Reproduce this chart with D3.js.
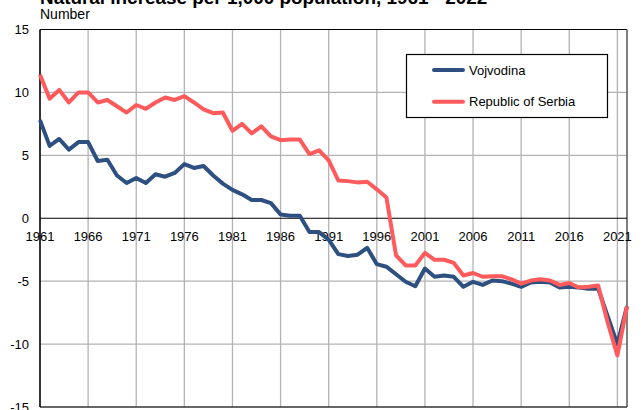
<!DOCTYPE html>
<html><head><meta charset="utf-8">
<script src="https://cdn.jsdelivr.net/npm/d3@7"></script>
<style>
html,body{margin:0;padding:0;background:#fff;}
svg{display:block;font-family:"Liberation Sans",Arial,sans-serif;}
</style></head>
<body>
<svg id="chart" width="641" height="410"></svg>
<script>
const titleText = "Natural increase per 1,000 population, 1961 - 2022";
const unitText = "Number";
const years = d3.range(1961, 2023);
const seriesNames = ["Vojvodina", "Republic of Serbia"];
const vojvodina = [7.8,5.75,6.3,5.45,6.05,6.05,4.55,4.65,3.4,2.8,3.2,2.8,3.5,3.3,3.6,4.3,4.0,
  4.15,3.4,2.75,2.25,1.9,1.45,1.45,1.2,0.3,0.2,0.2,-1.1,-1.1,-1.7,-2.85,-3.0,-2.9,-2.35,-3.65,-3.85,
  -4.45,-5.05,-5.4,-4.0,-4.65,-4.55,-4.65,-5.45,-5.05,-5.3,-4.95,-5.0,-5.2,-5.45,-5.1,-5.05,-5.1,-5.5,-5.45,-5.5,-5.6,-5.6,-7.8,-10.0,-7.0];
const serbia = [11.4,9.5,10.2,9.2,10.0,10.0,9.2,9.4,8.9,8.4,9.0,8.7,9.2,9.6,9.4,9.7,9.2,
  8.65,8.35,8.4,6.95,7.5,6.75,7.3,6.5,6.2,6.25,6.25,5.1,5.4,4.6,3.0,2.95,2.85,2.9,2.3,1.65,
  -2.95,-3.75,-3.75,-2.75,-3.3,-3.3,-3.55,-4.55,-4.35,-4.65,-4.6,-4.6,-4.85,-5.2,-4.95,-4.85,-4.95,-5.3,-5.15,-5.5,-5.45,-5.35,-8.3,-10.9,-7.0];
const xTicks = [1961,1966,1971,1976,1981,1986,1991,1996,2001,2006,2011,2016,2021];
const yTicks = [-15,-10,-5,0,5,10,15];
const colors = ["#2d5080", "#ff5a5c"];

const svg = d3.select("#chart");
const L = 40, R = 627, T = 29.5, B = 407;
const x = d3.scaleLinear().domain([1961, 2022]).range([L, R]);
const y = d3.scaleLinear().domain([-15, 15]).range([B, T]);

// title & unit
svg.append("text").attr("x", 40).attr("y", 3.5).attr("font-size", 18.9).attr("font-weight", "bold")
  .attr("fill", "#000").text(titleText);
svg.append("text").attr("x", 40).attr("y", 19).attr("font-size", 14).attr("fill", "#000").text(unitText);

// grid
const g = svg.append("g");
g.selectAll("line.hg").data(yTicks.filter(d => d !== 0 && d !== 15 && d !== -15)).enter().append("line")
  .attr("x1", L).attr("x2", R).attr("y1", d => y(d)).attr("y2", d => y(d))
  .attr("stroke", "#b3b3b3").attr("stroke-width", 1.3);
g.selectAll("line.vg").data(xTicks.filter(d => d !== 1961)).enter().append("line")
  .attr("x1", d => x(d)).attr("x2", d => x(d)).attr("y1", T).attr("y2", B)
  .attr("stroke", "#b3b3b3").attr("stroke-width", 1.3);

// frame
svg.append("line").attr("x1", L).attr("x2", R).attr("y1", T).attr("y2", T).attr("stroke", "#000").attr("stroke-width", 1.2);
svg.append("line").attr("x1", R).attr("x2", R).attr("y1", T).attr("y2", B).attr("stroke", "#555").attr("stroke-width", 1.5);
svg.append("line").attr("x1", L).attr("x2", R).attr("y1", B).attr("y2", B).attr("stroke", "#333").attr("stroke-width", 1.5);

// y axis labels
svg.append("g").selectAll("text").data(yTicks).enter().append("text")
  .attr("x", 29).attr("y", d => y(d)).attr("dy", "0.36em").attr("text-anchor", "end")
  .attr("font-size", 13).attr("fill", "#000").text(d => d);

// x labels
svg.append("g").selectAll("text").data(xTicks).enter().append("text")
  .attr("x", d => x(d)).attr("y", 240.5).attr("text-anchor", "middle")
  .attr("font-size", 13).attr("fill", "#000").text(d => d);

// zero line and left axis
svg.append("line").attr("x1", L).attr("x2", R).attr("y1", y(0)).attr("y2", y(0)).attr("stroke", "#000").attr("stroke-width", 1.2);
svg.append("line").attr("x1", L).attr("x2", L).attr("y1", T).attr("y2", B).attr("stroke", "#000").attr("stroke-width", 1.6);

// lines
const line = d3.line().x((d, i) => x(years[i])).y(d => y(d));
[vojvodina, serbia].forEach((s, k) => {
  svg.append("path").attr("d", line(s)).attr("fill", "none").attr("stroke", colors[k])
    .attr("stroke-width", 4).attr("stroke-linejoin", "round").attr("stroke-linecap", "butt");
});

// legend
const lg = svg.append("g");
lg.append("rect").attr("x", 406.5).attr("y", 54.5).attr("width", 201).attr("height", 63)
  .attr("fill", "#fff").attr("stroke", "#000").attr("stroke-width", 1.2);
seriesNames.forEach((n, k) => {
  const yy = 70 + k * 31.7;
  lg.append("line").attr("x1", 434).attr("x2", 463).attr("y1", yy).attr("y2", yy)
    .attr("stroke", colors[k]).attr("stroke-width", 4).attr("stroke-linecap", "round");
  lg.append("text").attr("x", 469).attr("y", yy).attr("dy", "0.36em").attr("font-size", 13)
    .attr("fill", "#000").text(n);
});
</script>
</body></html>
